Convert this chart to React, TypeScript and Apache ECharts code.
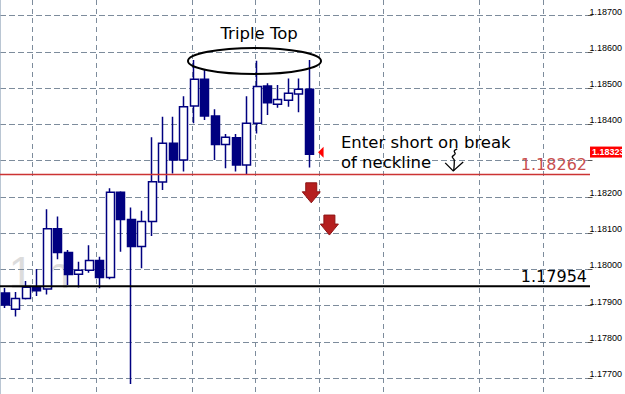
import React, { useEffect, useRef } from 'react';
import * as echarts from 'echarts';

// ---- data ----
const slots = Array.from({ length: 56 }, (_, i) => `T${i}`);
const gridSlots = Array.from({ length: 57 }, (_, i) => `G${i}`);
const timeGridSlots = [3, 9, 18, 24, 30, 36, 45, 51];

const opens = [
  1.17935, 1.1789, 1.1792, 1.17952, 1.17946, 1.18112, 1.18047, 1.17987, 1.17998, 1.18025,
  1.17978, 1.18213, 1.18138, 1.18063, 1.18132, 1.18241, 1.18348, 1.18302, 1.18451, 1.18525,
  1.18423, 1.18345, 1.18363, 1.18288, 1.18403, 1.18506, 1.18456, 1.18467, 1.18484, 1.18497,
];
const closes = [
  1.17902, 1.1792, 1.17951, 1.17941, 1.18112, 1.18047, 1.17986, 1.17998, 1.18025, 1.17978,
  1.18213, 1.18138, 1.18063, 1.18132, 1.18242, 1.18348, 1.18302, 1.18449, 1.18525, 1.18423,
  1.18345, 1.18365, 1.18288, 1.18403, 1.18505, 1.1846, 1.18469, 1.18486, 1.18497, 1.18318,
];
const lows = [
  1.17894, 1.1787, 1.17917, 1.17927, 1.17931, 1.18028, 1.17957, 1.1795, 1.17991, 1.17948,
  1.17973, 1.18049, 1.17684, 1.18003, 1.18092, 1.18219, 1.18265, 1.1827, 1.18403, 1.18412,
  1.18302, 1.18279, 1.1827, 1.18262, 1.18375, 1.18426, 1.18446, 1.18449, 1.18434, 1.18281,
];
const highs = [
  1.17949, 1.17938, 1.17968, 1.18001, 1.18166, 1.18146, 1.18054, 1.18021, 1.18067, 1.18035,
  1.18224, 1.18216, 1.18171, 1.18162, 1.18365, 1.18421, 1.18421, 1.18478, 1.18578, 1.1855,
  1.18442, 1.18374, 1.18374, 1.18478, 1.18576, 1.18514, 1.18509, 1.18527, 1.18527, 1.18578,
];

const yMin = 1.177;
const yMax = 1.187;
const yStep = 0.001;
const hiddenTickLabels = [1.183];
const currentPrice = 1.18323;
const levels = [
  { price: 1.18262, color: '#cc3333', textColor: '#c85050', width: 1.5 },
  { price: 1.17954, color: '#000000', textColor: '#000000', width: 2 },
];

const watermarkText = '1 h';
const titleText = 'Triple Top';
const noteLines = ['Enter short on break', 'of neckline'];

// annotation anchors (slot, price)
const tripleTopZone = { fromSlot: 17.42, toSlot: 30.1, high: 1.18611, low: 1.18539 };
const titleAnchor = [24.2, 1.18652];
const noteAnchors = [
  [32.0, 1.18349],
  [32.0, 1.18295],
];
const handArrowAnchor = [42.7, 1.18327];
const sellArrows = [
  [29.17, 1.18239],
  [30.9, 1.1815],
];
const watermarkAnchor = [0.34, 1.17992];

const FONT = 'DejaVu Sans';

export default function App() {
  const ref = useRef<HTMLDivElement>(null);

  useEffect(() => {
    if (!ref.current) return;
    const chart = echarts.init(ref.current, undefined, { renderer: 'svg' });
    const candles = opens.map((o, i) => [o, closes[i], lows[i], highs[i]]);
    const dash = { color: '#7d8c9c', width: 1, type: [6, 3] as any };

    chart.setOption({
      animation: false,
      backgroundColor: '#ffffff',
      grid: [
        { left: -9.08, right: 33.76, top: 15.7, bottom: 15.8 },
        { left: -3.72, right: 28.4, top: 0, bottom: 0 },
        { left: 0, right: 35, top: 0, bottom: 0 },
      ],
      xAxis: [
        { gridIndex: 0, type: 'category', data: slots, boundaryGap: true, show: false },
        {
          gridIndex: 1,
          type: 'category',
          data: gridSlots,
          boundaryGap: false,
          axisLine: { show: false },
          axisTick: { show: false },
          axisLabel: { show: false },
          splitLine: {
            show: true,
            interval: (index: number) => timeGridSlots.includes(index),
            lineStyle: { color: '#7d8c9c', width: 1, type: [5, 4] },
          },
        },
        { gridIndex: 2, type: 'value', show: false },
      ],
      yAxis: [
        {
          gridIndex: 0,
          type: 'value',
          position: 'right',
          min: yMin,
          max: yMax,
          interval: yStep,
          axisLine: { show: false },
          axisTick: { show: true, length: 5, lineStyle: { color: '#555' } },
          axisLabel: {
            show: true,
            margin: 2,
            fontSize: 9,
            fontFamily: 'Liberation Sans',
            color: '#000',
            verticalAlign: 'bottom',
            lineHeight: 8,
            formatter: (v: number) =>
              hiddenTickLabels.some((h) => Math.abs(h - v) < 1e-7) ? '' : v.toFixed(5),
          },
          splitLine: { show: true, lineStyle: dash },
        },
        { gridIndex: 1, type: 'value', show: false },
        {
          gridIndex: 2,
          type: 'value',
          position: 'right',
          axisLine: { show: true, lineStyle: { color: '#a3b3c5', width: 1.5 } },
          axisTick: { show: false },
          axisLabel: { show: false },
          splitLine: { show: false },
        },
      ],
      series: [
        {
          type: 'candlestick',
          xAxisIndex: 0,
          yAxisIndex: 0,
          data: candles,
          clip: false,
          barWidth: 8.5,
          itemStyle: {
            color: '#ffffff',
            color0: '#000080',
            borderColor: '#000080',
            borderColor0: '#000080',
            borderWidth: 1.5,
          },
        },
      ],
    });

    const px = (slot: number, price: number) => {
      const a = chart.convertToPixel({ gridIndex: 0 }, [0, price]) as number[];
      const b = chart.convertToPixel({ gridIndex: 0 }, [1, price]) as number[];
      return [a[0] + slot * (b[0] - a[0]), a[1]];
    };
    const axisX = chart.getWidth() - 35;

    const graphics: any[] = [];
    // watermark
    const wm = px(watermarkAnchor[0], watermarkAnchor[1]);
    graphics.push({
      type: 'text',
      z: -10,
      x: wm[0],
      y: wm[1],
      style: {
        text: watermarkText,
        font: `44px "Liberation Sans"`,
        fill: '#dcdcdc',
        align: 'left',
        verticalAlign: 'middle',
      },
    });
    // horizontal price levels
    levels.forEach((lv) => {
      const y = px(0, lv.price)[1];
      graphics.push({
        type: 'line',
        z: 40,
        shape: { x1: 0, y1: y, x2: axisX, y2: y },
        style: { stroke: lv.color, lineWidth: lv.width },
      });
      graphics.push({
        type: 'text',
        z: 40,
        x: axisX - 3,
        y: y - 2,
        style: {
          text: lv.price.toFixed(5),
          font: `16px "${FONT}"`,
          fill: lv.textColor,
          align: 'right',
          verticalAlign: 'bottom',
        },
      });
    });
    // ellipse
    const e1 = px(tripleTopZone.fromSlot, tripleTopZone.high);
    const e2 = px(tripleTopZone.toSlot, tripleTopZone.low);
    graphics.push({
      type: 'ellipse',
      z: 50,
      shape: { cx: (e1[0] + e2[0]) / 2, cy: (e1[1] + e2[1]) / 2, rx: (e2[0] - e1[0]) / 2, ry: (e2[1] - e1[1]) / 2 },
      style: { fill: 'none', stroke: '#000', lineWidth: 2 },
    });
    const tt = px(titleAnchor[0], titleAnchor[1]);
    graphics.push({
      type: 'text',
      z: 50,
      x: tt[0],
      y: tt[1],
      style: { text: titleText, font: `16.5px "${FONT}"`, fill: '#000', align: 'center', verticalAlign: 'middle' },
    });
    noteLines.forEach((t, i) => {
      const p = px(noteAnchors[i][0], noteAnchors[i][1]);
      graphics.push({
        type: 'text',
        z: 50,
        x: p[0],
        y: p[1],
        style: { text: t, font: `16.5px "${FONT}"`, fill: '#000', align: 'left', verticalAlign: 'middle' },
      });
    });
    // hand-drawn arrow
    const ha = px(handArrowAnchor[0], handArrowAnchor[1]);
    const hx = ha[0];
    const hy = ha[1];
    graphics.push({
      type: 'polyline',
      z: 50,
      shape: {
        points: [
          [hx + 4, hy - 2],
          [hx + 1, hy],
          [hx + 2, hy + 3],
          [hx - 1, hy + 6],
          [hx + 1, hy + 9],
          [hx + 0.5, hy + 20],
        ],
        smooth: 0.3,
      },
      style: { stroke: '#000', lineWidth: 1.3, fill: 'none' },
    });
    graphics.push({
      type: 'polyline',
      z: 50,
      shape: { points: [[hx - 8, hy + 12], [hx, hy + 20], [hx + 10, hy + 11]] },
      style: { stroke: '#000', lineWidth: 1.3, fill: 'none' },
    });
    // sell arrows
    sellArrows.forEach(([s, pr]) => {
      const p = px(s, pr);
      const cx = p[0];
      const y0 = p[1];
      graphics.push({
        type: 'polygon',
        z: 50,
        shape: {
          points: [
            [cx - 5.5, y0],
            [cx + 5.5, y0],
            [cx + 5.5, y0 + 9],
            [cx + 9, y0 + 9],
            [cx, y0 + 20],
            [cx - 9, y0 + 9],
            [cx - 5.5, y0 + 9],
          ],
        },
        style: { fill: '#b51f1f', stroke: '#8e1414', lineWidth: 1 },
      });
    });
    // current price marker triangle
    const tri = px(29.82, currentPrice);
    graphics.push({
      type: 'polygon',
      z: 50,
      shape: { points: [[tri[0], tri[1]], [tri[0] + 5.5, tri[1] - 5.5], [tri[0] + 5.5, tri[1] + 5.5]] },
      style: { fill: '#ff0000' },
    });
    // current price tag on the axis
    const tagY = tri[1];
    graphics.push({
      type: 'rect',
      z: 60,
      shape: { x: axisX, y: tagY - 5.8, width: 32, height: 11 },
      style: { fill: '#ff0000' },
    });
    graphics.push({
      type: 'text',
      z: 61,
      x: axisX + 2,
      y: tagY,
      style: {
        text: currentPrice.toFixed(5),
        font: `bold 9px "Liberation Sans"`,
        fill: '#ffffff',
        align: 'left',
        verticalAlign: 'middle',
      },
    });

    chart.setOption({ graphic: graphics });

    return () => chart.dispose();
  }, []);

  return (
    <div
      ref={ref}
      style={{ position: 'fixed', left: 0, top: 0, width: 625, height: 394, background: '#fff' }}
    />
  );
}
